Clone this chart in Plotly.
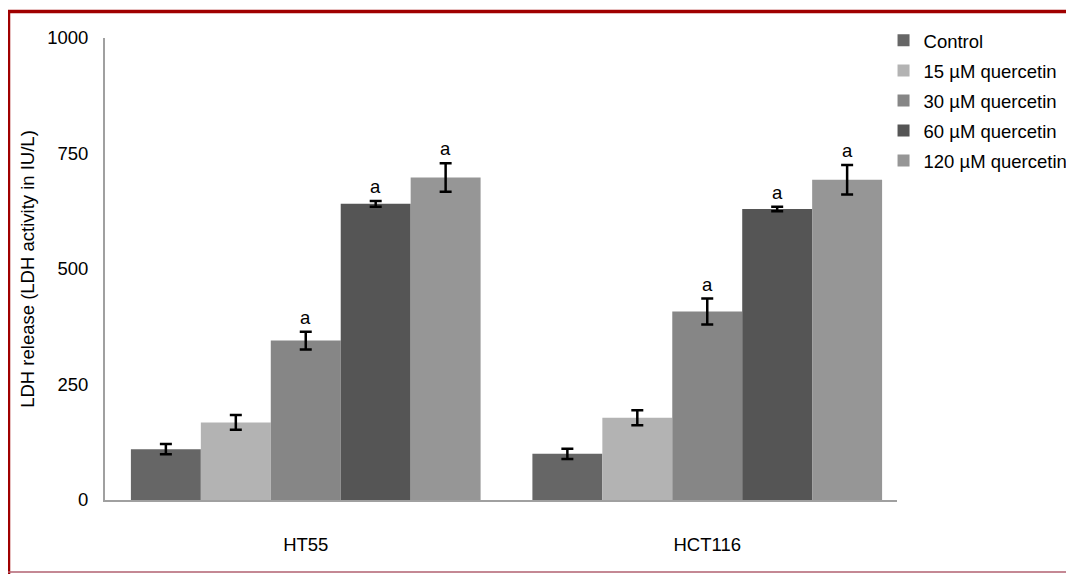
import plotly.graph_objects as go

categories = ["HT55", "HCT116"]
series_names = ["Control", "15 µM quercetin", "30 µM quercetin", "60 µM quercetin", "120 µM quercetin"]
control = [110, 100]
control_err = [11, 11]
q15 = [168, 178]
q15_err = [16, 16]
q30 = [345, 408]
q30_err = [19, 28]
q60 = [641, 630]
q60_err = [6, 5]
q120 = [698, 693]
q120_err = [31, 32]
# significance marks ("a") per series and category
sig = [["", ""], ["", ""], ["a", "a"], ["a", "a"], ["a", "a"]]

colors = ["#666666", "#b3b3b3", "#868686", "#555555", "#969696"]
values = [control, q15, q30, q60, q120]
errors = [control_err, q15_err, q30_err, q60_err, q120_err]

FONT = "Liberation Sans, Arial, sans-serif"
FS = 18.5

# page body has an 8px margin; figure is sized to fill the rest of the window
W, H = 1066, 566
L, T = 97, 30
PW, PH = 792, 462

fig = go.Figure()
for i, (name, v, e, c) in enumerate(zip(series_names, values, errors, colors)):
    fig.add_trace(go.Bar(
        x=categories, y=v, name=name, marker=dict(color=c, line=dict(width=0)),
        error_y=dict(type="data", array=e, visible=True, color="black", thickness=2.5, width=6),
        legendgroup=f"g{i}",
    ))

fig.update_layout(
    barmode="group", bargap=0.129, bargroupgap=0,
    width=W, height=H,
    margin=dict(l=L, r=W - L - PW, t=T, b=H - T - PH, autoexpand=False),
    plot_bgcolor="white", paper_bgcolor="white",
    font=dict(family=FONT, size=FS, color="black"),
    showlegend=True,
    legend=dict(x=0.983, xanchor="left", y=1.035, yanchor="top", font=dict(size=FS),
                tracegroupgap=3, bgcolor="rgba(0,0,0,0)", itemwidth=30),
    xaxis=dict(range=[-0.5, 1.4726], showline=True, linecolor="#a0a0a0", linewidth=2,
               ticks="", showgrid=False, ticklabelstandoff=27, tickfont=dict(size=FS)),
    yaxis=dict(range=[0, 1000], tickvals=[0, 250, 500, 750, 1000], showline=True,
               linecolor="#a0a0a0", linewidth=2, ticks="", showgrid=False, zeroline=False,
               ticklabelstandoff=11, tickfont=dict(size=FS),
               title=dict(text="LDH release (LDH activity in IU/L)", font=dict(size=FS), standoff=8)),
)

# significance annotations
n = len(series_names)
for i in range(n):
    for j, cat in enumerate(categories):
        if sig[i][j]:
            fig.add_annotation(
                x=cat, y=values[i][j] + errors[i][j], text=sig[i][j], showarrow=False,
                xref="x", yref="y", yanchor="bottom", yshift=2,
                xshift=(i - (n - 1) / 2) * 70, font=dict(size=FS, color="black"),
            )

# decorative frame lines (page border), positions in window pixels
def px(x):
    return (x - 8 - L) / PW
def py(y):
    return (T + PH - (y - 8)) / PH

fig.add_shape(type="line", xref="paper", yref="paper", x0=px(6), x1=px(1090), y0=py(11.5), y1=py(11.5),
              line=dict(color="#a00000", width=3.5), layer="above")
fig.add_shape(type="line", xref="paper", yref="paper", x0=px(8.5), x1=px(8.5), y0=py(10), y1=py(580),
              line=dict(color="#a00000", width=3.5), layer="above")
fig.add_shape(type="line", xref="paper", yref="paper", x0=px(8), x1=px(1090), y0=py(572), y1=py(572),
              line=dict(color="#b06070", width=1.5), layer="above")

fig.write_html("out.html")
